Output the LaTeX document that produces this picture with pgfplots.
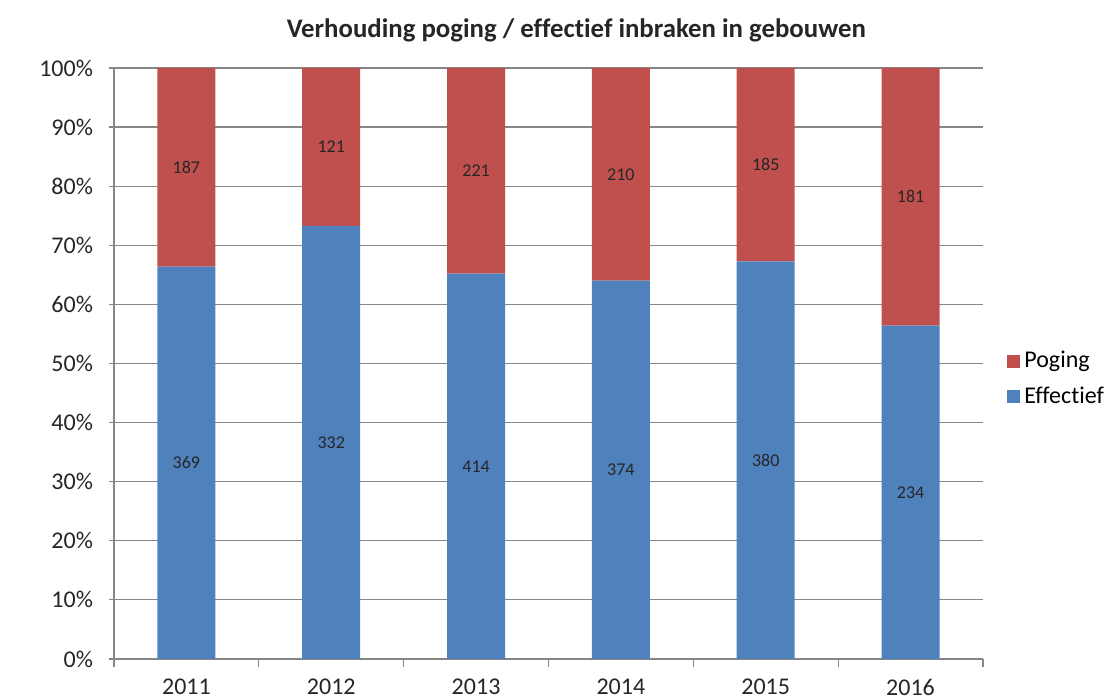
\documentclass[border=0pt]{standalone}
\usepackage{fontspec}
\setmainfont{Carlito}[Ligatures=NoCommon]
\usepackage{pgfplots}
\pgfplotsset{compat=1.18}
\usepackage{pgfplotstable}

\definecolor{poging}{RGB}{192,80,77}
\definecolor{effectief}{RGB}{79,129,189}
\definecolor{gridgray}{RGB}{134,134,134}

% share of each year (percent) and the absolute count shown in the bar
\pgfplotstableread{
x pct n
0 66.37 369
1 73.29 332
2 65.20 414
3 64.04 374
4 67.26 380
5 56.39 234
}\effectief
\pgfplotstableread{
x pct n
0 33.63 187
1 26.71 121
2 34.80 221
3 35.96 210
4 32.74 185
5 43.61 181
}\poging

\begin{document}
\begin{tikzpicture}
\path[use as bounding box] (-57pt,-20pt) rectangle (498pt,329.5pt);
\begin{axis}[
    scale only axis,
    width=434.5pt, height=295.5pt,
    ybar stacked, bar width=29pt,
    xmin=-0.5, xmax=5.5, ymin=0, ymax=100,
    xtick={0,...,5},
    xticklabels={2011,2012,2013,2014,2015,2016},
    minor xtick={-0.5,0.5,...,5.5},
    ytick={0,10,...,100},
    yticklabel={\pgfmathprintnumber{\tick}\%},
    /pgf/number format/assume math mode=true,
    axis lines*=left,
    axis line style={gridgray, line width=0.6pt},
    tick align=outside,
    major tick length=2.5pt,
    minor tick length=4pt,
    major x tick style={draw=none},
    minor x tick style={gridgray, line width=0.6pt},
    y tick style={gridgray, line width=0.6pt},
    ymajorgrids,
    grid style={gridgray, line width=0.6pt},
    tick label style={font=\fontsize{12}{14}\selectfont, text=black!85},
    xticklabel style={yshift=-4pt},
    yticklabel style={xshift=-4.5pt},
    title={Verhouding poging / effectief inbraken in gebouwen},
    title style={font=\bfseries\fontsize{13.4}{16}\selectfont, text=black!85,
        at={(0.532,1)}, anchor=center, yshift=13pt},
    point meta=explicit symbolic,
    nodes near coords,
    every node near coord/.append style={anchor=center,
        font=\fontsize{9}{10}\selectfont, text=black!85},
    legend image code/.code={\fill[#1] (0pt,-3.25pt) rectangle (6.5pt,3.25pt);},
    reverse legend,
    legend style={at={(1,0.474)}, anchor=west, xshift=12pt, draw=none,
        font=\fontsize{12}{14}\selectfont, row sep=4pt, inner sep=0pt},
    legend cell align=left,
]
\addplot[fill=effectief, draw=none] table[x=x, y=pct, meta=n] {\effectief};
\addplot[fill=poging, draw=none] table[x=x, y=pct, meta=n] {\poging};
\legend{Effectief, Poging}
\end{axis}
\end{tikzpicture}
\end{document}
